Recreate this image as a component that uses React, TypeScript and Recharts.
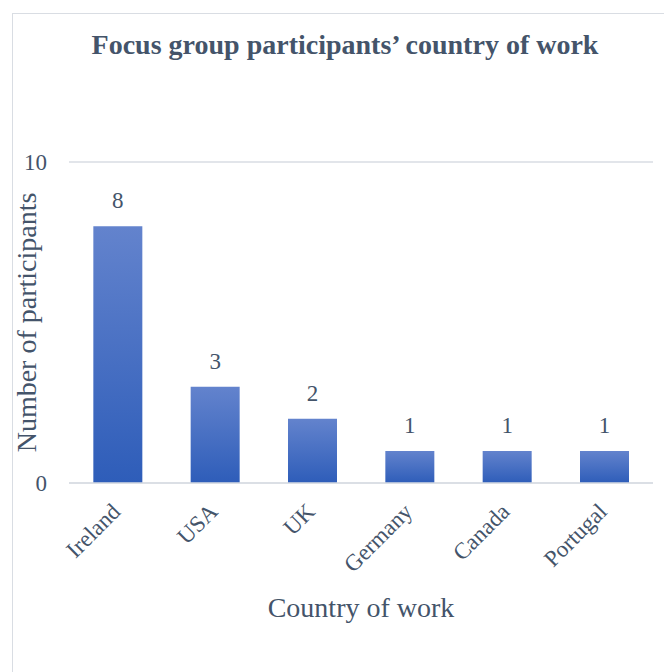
import { BarChart, Bar, XAxis, YAxis, CartesianGrid, LabelList, Label } from "recharts";

const countries = ["Ireland", "USA", "UK", "Germany", "Canada", "Portugal"];
const participants = [8, 3, 2, 1, 1, 1];
const yTicks = [0, 10];

const data = countries.map((country, i) => ({ country, participants: participants[i] }));

const FONT = '"Liberation Serif", "Times New Roman", serif';
const TEXT = "#44546A";
const LINE = "#D9DDE3";
const serif = { fontFamily: FONT };

// rotated category labels, anchored at their end just under the axis
const CountryTick = ({ x, y, payload }: any) => {
  const tx = x + 4;
  const ty = y + 22;
  return (
    <text
      x={tx}
      y={ty}
      transform={`rotate(-45, ${tx}, ${ty})`}
      textAnchor="end"
      fill={TEXT}
      fontSize={23}
      style={serif}
    >
      {payload.value}
    </text>
  );
};

const CountTick = ({ y, payload }: any) => (
  <text x={47} y={y} dy={8} textAnchor="end" fill={TEXT} fontSize={23} style={serif}>
    {payload.value}
  </text>
);

const ValueLabel = ({ x, y, width, value }: any) => (
  <text x={x + width / 2} y={y - 18} textAnchor="middle" fill={TEXT} fontSize={23} style={serif}>
    {value}
  </text>
);

const YTitle = ({ viewBox }: any) => {
  const cy = viewBox.y + viewBox.height / 2;
  return (
    <text
      x={36}
      y={cy}
      transform={`rotate(-90, 36, ${cy})`}
      textAnchor="middle"
      fill={TEXT}
      fontSize={28}
      style={serif}
    >
      Number of participants
    </text>
  );
};

const XTitle = ({ viewBox }: any) => (
  <text
    x={viewBox.x + viewBox.width / 2}
    y={617}
    textAnchor="middle"
    fill={TEXT}
    fontSize={28}
    style={serif}
  >
    Country of work
  </text>
);

export default function App() {
  return (
    <div
      style={{
        position: "absolute",
        left: 0,
        top: 0,
        width: 664,
        height: 672,
        overflow: "hidden",
        background: "#fff",
      }}
    >
      {/* chart frame */}
      <div
        style={{
          position: "absolute",
          left: 12,
          top: 13,
          width: 700,
          height: 700,
          border: `1px solid ${LINE}`,
        }}
      />
      <div
        style={{
          position: "absolute",
          left: 0,
          top: 31,
          width: 690,
          textAlign: "center",
          fontFamily: FONT,
          fontWeight: "bold",
          fontSize: 28,
          lineHeight: "28px",
          color: TEXT,
        }}
      >
        Focus group participants’ country of work
      </div>
      <BarChart
        width={664}
        height={672}
        data={data}
        margin={{ top: 162, right: 11, bottom: 0, left: 0 }}
        barCategoryGap="25%"
        style={{ position: "absolute", left: 0, top: 0 }}
      >
        <defs>
          <linearGradient id="barFill" x1="0" y1="0" x2="0" y2="1">
            <stop offset="0%" stopColor="#6383CD" />
            <stop offset="100%" stopColor="#2E5DB9" />
          </linearGradient>
        </defs>
        <CartesianGrid vertical={false} stroke={LINE} strokeWidth={1.5} />
        <XAxis
          dataKey="country"
          height={189}
          axisLine={{ stroke: LINE, strokeWidth: 1.5 }}
          tickLine={false}
          interval={0}
          tick={<CountryTick />}
        >
          <Label content={<XTitle />} />
        </XAxis>
        <YAxis
          width={69}
          domain={[0, 10]}
          ticks={yTicks}
          axisLine={false}
          tickLine={false}
          tick={<CountTick />}
        >
          <Label content={<YTitle />} />
        </YAxis>
        <Bar dataKey="participants" fill="url(#barFill)" isAnimationActive={false}>
          <LabelList dataKey="participants" content={<ValueLabel />} />
        </Bar>
      </BarChart>
    </div>
  );
}
